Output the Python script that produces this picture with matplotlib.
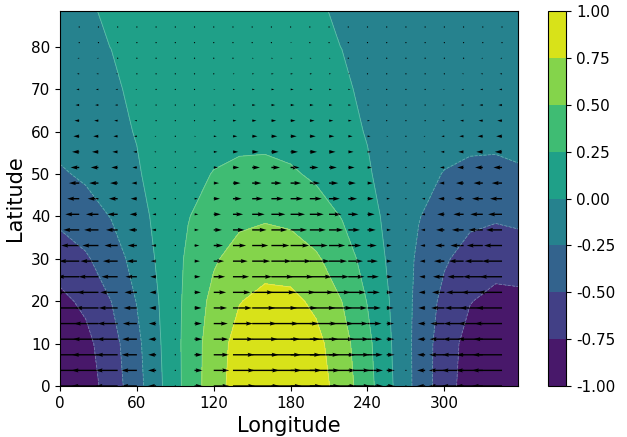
import numpy as np
import matplotlib
matplotlib.use("Agg")
import matplotlib.pyplot as plt

# ---- data ----
lon = [0, 20, 40, 60, 80, 100, 120, 140, 160, 180, 200, 220, 240, 260, 280, 300, 320, 340, 360]
lat = [0, 10, 20, 30, 40, 50, 60, 70, 80, 90]
field = [
    [-0.98, -0.87, -0.64, -0.34, 0.00, 0.34, 0.64, 0.87, 0.98, 0.98, 0.87, 0.64, 0.34, 0.00, -0.34, -0.64, -0.87, -0.98, -0.98],
    [-0.94, -0.82, -0.60, -0.31, 0.02, 0.34, 0.63, 0.84, 0.94, 0.94, 0.82, 0.60, 0.31, -0.02, -0.34, -0.63, -0.84, -0.94, -0.94],
    [-0.81, -0.70, -0.50, -0.24, 0.04, 0.32, 0.57, 0.74, 0.82, 0.81, 0.70, 0.50, 0.24, -0.04, -0.32, -0.57, -0.74, -0.82, -0.81],
    [-0.63, -0.53, -0.37, -0.16, 0.07, 0.29, 0.47, 0.60, 0.65, 0.63, 0.53, 0.37, 0.16, -0.07, -0.29, -0.47, -0.60, -0.65, -0.63],
    [-0.44, -0.36, -0.24, -0.08, 0.08, 0.24, 0.36, 0.44, 0.47, 0.44, 0.36, 0.24, 0.08, -0.08, -0.24, -0.36, -0.44, -0.47, -0.44],
    [-0.28, -0.21, -0.13, -0.02, 0.09, 0.18, 0.26, 0.30, 0.31, 0.28, 0.21, 0.13, 0.02, -0.09, -0.18, -0.26, -0.30, -0.31, -0.28],
    [-0.15, -0.11, -0.05, 0.01, 0.07, 0.12, 0.16, 0.18, 0.18, 0.15, 0.11, 0.05, -0.01, -0.07, -0.12, -0.16, -0.18, -0.18, -0.15],
    [-0.075, -0.048, -0.015, 0.019, 0.051, 0.077, 0.094, 0.099, 0.092, 0.075, 0.048, 0.015, -0.019, -0.051, -0.077, -0.094, -0.099, -0.092, -0.075],
    [-0.031, -0.016, 0.001, 0.018, 0.032, 0.043, 0.048, 0.048, 0.042, 0.031, 0.016, -0.001, -0.018, -0.032, -0.043, -0.048, -0.048, -0.042, -0.031],
    [-0.010, -0.003, 0.005, 0.012, 0.017, 0.021, 0.022, 0.020, 0.016, 0.010, 0.003, -0.005, -0.012, -0.017, -0.021, -0.022, -0.020, -0.016, -0.010],
]
levels = [-1.0, -0.75, -0.5, -0.25, 0.0, 0.25, 0.5, 0.75, 1.0]

quiver_lon = [0, 15, 30, 45, 60, 75, 90, 105, 120, 135, 150, 165,
              180, 195, 210, 225, 240, 255, 270, 285, 300, 315, 330, 345]
quiver_lat = [0.0, 3.68, 7.36, 11.04, 14.72, 18.4, 22.08, 25.76, 29.44, 33.12, 36.8, 40.48,
              44.16, 47.84, 51.52, 55.2, 58.88, 62.56, 66.24, 69.92, 73.6, 77.28, 80.96, 84.64]
# zonal wind: shape along longitude and strength along latitude
u_lon_profile = [-1.0, -0.97, -0.87, -0.71, -0.5, -0.26, 0.0, 0.26, 0.5, 0.71, 0.87, 0.97,
                 1.0, 0.97, 0.87, 0.71, 0.5, 0.26, 0.0, -0.26, -0.5, -0.71, -0.87, -0.97]
u_lat_profile = [1.0, 0.994, 0.975, 0.944, 0.903, 0.852, 0.794, 0.731, 0.664, 0.595, 0.527, 0.461,
                 0.398, 0.339, 0.285, 0.237, 0.194, 0.157, 0.126, 0.099, 0.077, 0.059, 0.045, 0.034]

xticks = [0, 60, 120, 180, 240, 300]
yticks = [0, 10, 20, 30, 40, 50, 60, 70, 80]

# ---- figure ----
fig = plt.figure(figsize=(6.27, 4.37), dpi=100)
ax = fig.add_axes([0.0957, 0.1167, 0.7305, 0.858])
cax = fig.add_axes([0.874, 0.1167, 0.0295, 0.858])

cf = ax.contourf(lon, lat, field, levels=levels, cmap="viridis")
# faint seams between filled bands, as in the reference
ax.contour(lon, lat, field, levels=levels[1:-1], colors="white",
           linewidths=0.6, alpha=0.3)

U = np.outer(u_lat_profile, u_lon_profile)
V = np.zeros_like(U)
ax.quiver(quiver_lon, quiver_lat, U, V, angles="xy", scale_units="x",
          scale=1 / 24.3, width=0.003, color="black")

ax.set_xlim(0, 357.5)
ax.set_ylim(0, 88.4)
ax.set_xticks(xticks)
ax.set_yticks(yticks)
ax.tick_params(labelsize=11)
ax.set_xlabel("Longitude", fontsize=15)
ax.set_ylabel("Latitude", fontsize=15)

cb = fig.colorbar(cf, cax=cax, ticks=levels, format="%.2f")
cb.ax.tick_params(labelsize=11)

fig.savefig("out.png", dpi=100)
